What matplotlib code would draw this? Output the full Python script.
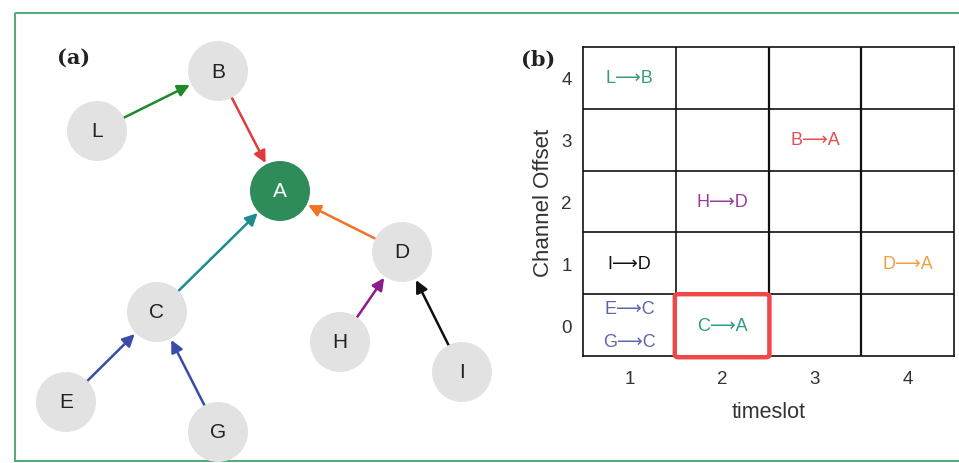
import matplotlib
matplotlib.use("Agg")
import matplotlib.pyplot as plt
from matplotlib.patches import Circle, Rectangle, FancyBboxPatch

# ---- data ----
node_names = ['A', 'B', 'C', 'D', 'E', 'G', 'H', 'I', 'L']
node_x = [280, 218, 157, 402, 66, 218, 340, 462, 97]
node_y = [192, 72, 313, 253, 403, 433, 343, 373, 132]
edge_src = ['L', 'B', 'C', 'D', 'E', 'G', 'H', 'I']
edge_dst = ['B', 'A', 'A', 'A', 'C', 'C', 'D', 'D']
edge_colors = ['#1f8a2a', '#e03c3c', '#1c8c8c', '#f07426', '#3a4caa', '#3a4caa', '#8c1c8c', '#111111']

sched_labels = ['L⟶B', 'B⟶A', 'H⟶D', 'I⟶D', 'D⟶A', 'E⟶C', 'G⟶C', 'C⟶A']
sched_slot = [1, 3, 2, 1, 4, 1, 1, 2]
sched_chan = [4, 3, 2, 1, 1, 0.27, -0.27, 0]
sched_colors = ['#3a9a7c', '#e05050', '#9a3a9a', '#111111', '#f0a040', '#5a68aa', '#5a68aa', '#2a9a88']
timeslots = [1, 2, 3, 4]
channels = [0, 1, 2, 3, 4]

FS = ['Liberation Sans', 'DejaVu Sans']

fig = plt.figure(figsize=(9.59, 4.64), dpi=100)

# ---- panel (a): graph in pixel coordinates ----
ax = fig.add_axes([0, 0, 1, 1])
ax.set_xlim(0, 959)
ax.set_ylim(464, 0)
ax.axis('off')

ax.add_patch(Rectangle((15, 14), 960, 448, fill=False, ec='#5aaa7c', lw=1.5, zorder=1))

pos = {n: (x, y) for n, x, y in zip(node_names, node_x, node_y)}
R = 30
for n in node_names:
    fc = '#2e8b5a' if n == 'A' else '#e2e2e2'
    ax.add_patch(Circle(pos[n], R, fc=fc, ec='none', zorder=3))
    ax.text(pos[n][0], pos[n][1], n, ha='center', va='center', fontsize=15,
            color='white' if n == 'A' else '#222222', family=FS, zorder=4)

shrink_pt = R * 72 / 100
for s, d, c in zip(edge_src, edge_dst, edge_colors):
    ax.annotate('', xy=pos[d], xytext=pos[s],
                arrowprops=dict(arrowstyle='-|>', color=c, lw=1.8, mutation_scale=18,
                                shrinkA=shrink_pt, shrinkB=shrink_pt + 1), zorder=2)

ax.text(74, 58, '(a)', fontsize=15, fontweight='bold', family='DejaVu Serif',
        ha='center', va='center', color='#222222')
ax.text(538, 60, '(b)', fontsize=15, fontweight='bold', family='DejaVu Serif',
        ha='center', va='center', color='#222222')

# ---- panel (b): schedule grid ----
L, Rr, T, B = 583, 954, 48, 357
gx = fig.add_axes([L / 959, 1 - B / 464, (Rr - L) / 959, (B - T) / 464])
gx.set_xlim(0.5, 4.5)
gx.set_ylim(-0.5, 4.5)
gx.set_xticks(timeslots)
gx.set_yticks(channels)
gx.set_xticklabels([str(t) for t in timeslots], family=FS, fontsize=13.5, color='#333333')
gx.set_yticklabels([str(c) for c in channels], family=FS, fontsize=13.5, color='#333333')
gx.tick_params(axis='x', length=0, pad=10)
gx.tick_params(axis='y', length=0, pad=8)
for v in [1.5, 2.5, 3.5]:
    gx.axvline(v, color='#111111', lw=1.6 if v > 2 else 1.2)
for h in [0.5, 1.5, 2.5, 3.5]:
    gx.axhline(h, color='#111111', lw=1.2)
for sp in gx.spines.values():
    sp.set_color('#111111')
    sp.set_linewidth(1.2)
gx.set_xlabel('timeslot', family=FS, fontsize=15.5, color='#333333', labelpad=10)
gx.set_ylabel('Channel Offset', family=FS, fontsize=16, color='#333333', labelpad=5)

for lab, t, ch, c in zip(sched_labels, sched_slot, sched_chan, sched_colors):
    gx.text(t, ch, lab, ha='center', va='center', fontsize=13, color=c, family=FS)

gx.add_patch(FancyBboxPatch((1.49, -0.52), 1.02, 1.02,
                            boxstyle='round,pad=0,rounding_size=0.04',
                            fc='none', ec='#f04848', lw=3.2, clip_on=False, zorder=5))

fig.savefig('out.png', dpi=100)
